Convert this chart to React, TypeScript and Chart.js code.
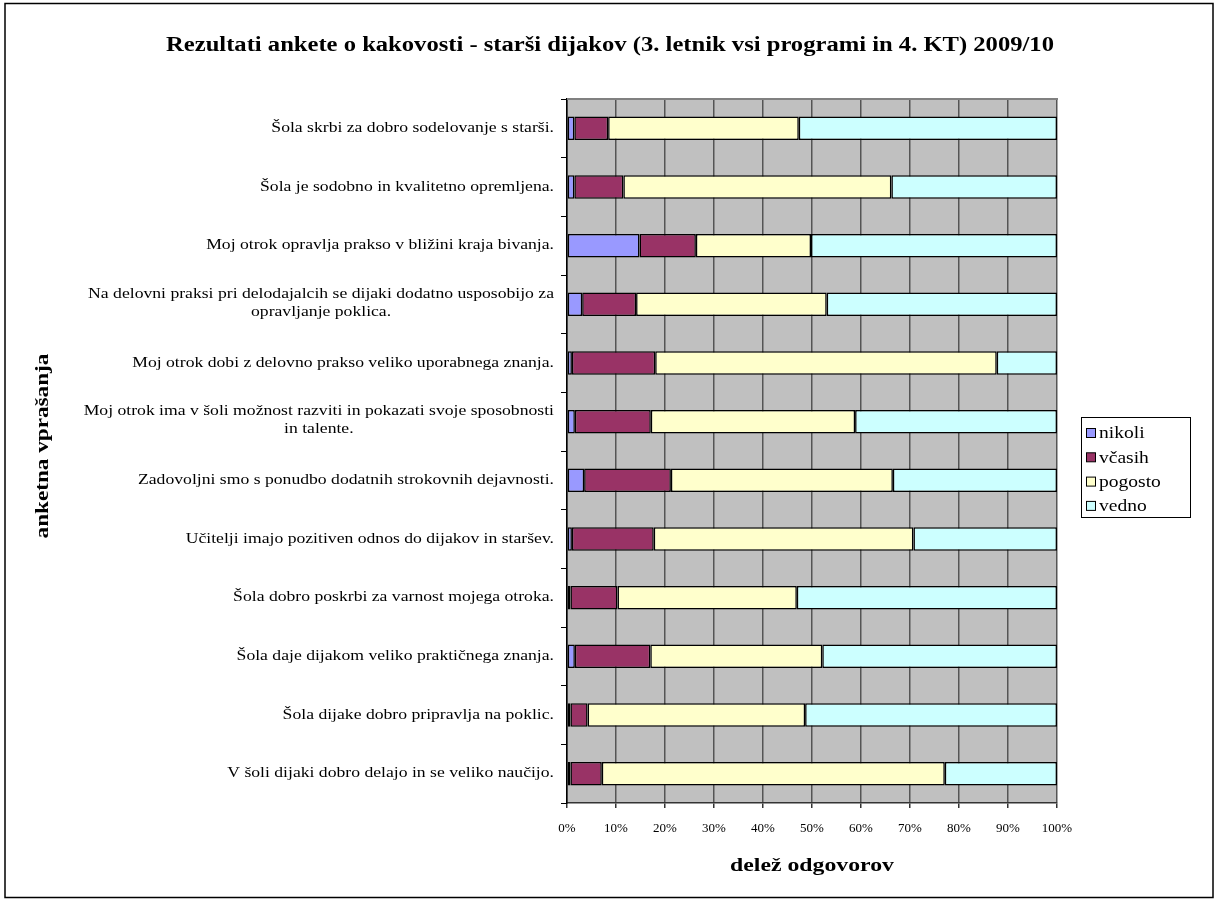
import React, { useEffect, useRef } from "react";
import { Chart, registerables } from "chart.js";

Chart.register(...registerables);

const TITLE = "Rezultati ankete o kakovosti - starši dijakov (3. letnik vsi programi in 4. KT) 2009/10";
const X_TITLE = "delež odgovorov";
const Y_TITLE = "anketna vprašanja";

const categories: string[][] = [
  ["Šola skrbi za dobro sodelovanje s starši."],
  ["Šola je sodobno in kvalitetno opremljena."],
  ["Moj otrok opravlja prakso v bližini kraja bivanja."],
  ["Na delovni praksi pri delodajalcih se dijaki dodatno usposobijo za", "opravljanje poklica."],
  ["Moj otrok dobi z delovno prakso veliko uporabnega znanja."],
  ["Moj otrok ima v šoli možnost razviti in pokazati svoje sposobnosti", "in talente."],
  ["Zadovoljni smo s ponudbo dodatnih strokovnih dejavnosti."],
  ["Učitelji imajo pozitiven odnos do dijakov in staršev."],
  ["Šola dobro poskrbi za varnost mojega otroka."],
  ["Šola daje dijakom veliko praktičnega znanja."],
  ["Šola dijake dobro pripravlja na poklic."],
  ["V šoli dijaki dobro delajo in se veliko naučijo."],
];

const seriesNames = ["nikoli", "včasih", "pogosto", "vedno"];
const seriesColors = ["#9999FF", "#993366", "#FFFFCC", "#CCFFFF"];

const nikoli = [1.5, 1.5, 14.8, 3.1, 1.0, 1.6, 3.5, 1.0, 0.7, 1.6, 0.7, 0.7];
const vcasih = [6.9, 10.0, 11.5, 11.0, 17.0, 15.5, 17.7, 16.7, 9.6, 15.4, 3.5, 6.4];
const pogosto = [38.9, 54.7, 23.5, 38.9, 69.7, 41.7, 45.3, 53.0, 36.6, 35.1, 44.4, 70.0];
const vedno = [52.7, 33.8, 50.2, 47.0, 12.3, 41.2, 33.5, 29.3, 53.1, 47.9, 51.4, 22.9];

const xTicks = [0, 10, 20, 30, 40, 50, 60, 70, 80, 90, 100];

const SERIF = "'Liberation Serif', 'Times New Roman', serif";

function stretchedText(ctx: CanvasRenderingContext2D, text: string, x: number, y: number, sx: number, align: CanvasTextAlign, rot = 0) {
  ctx.save();
  ctx.translate(x, y);
  if (rot) ctx.rotate(rot);
  ctx.scale(sx, 1);
  ctx.textAlign = align;
  ctx.fillText(text, 0, 0);
  ctx.restore();
}

export default function App() {
  const ref = useRef<HTMLCanvasElement | null>(null);

  useEffect(() => {
    if (!ref.current) return;
    const values = [nikoli, vcasih, pogosto, vedno];

    const framePlugin = {
      id: "frame",
      beforeDraw(chart: any) {
        const { ctx, chartArea: a } = chart;
        ctx.save();
        ctx.fillStyle = "#ffffff";
        ctx.fillRect(0, 0, chart.width, chart.height);
        ctx.fillStyle = "#C0C0C0";
        ctx.fillRect(a.left, a.top, a.right - a.left, a.bottom - a.top);
        ctx.restore();
      },
      beforeDatasetsDraw(chart: any) {
        const { ctx, chartArea: a } = chart;
        ctx.save();
        ctx.strokeStyle = "#808080";
        ctx.lineWidth = 2;
        ctx.beginPath();
        ctx.moveTo(a.left, a.top);
        ctx.lineTo(a.right + 1, a.top);
        ctx.stroke();
        ctx.restore();
      },
      afterDraw(chart: any) {
        const { ctx, chartArea: a } = chart;
        ctx.save();
        // outer border
        ctx.strokeStyle = "#000000";
        ctx.lineWidth = 1.5;
        ctx.strokeRect(5, 3.5, 1208, 894);

        ctx.fillStyle = "#000000";
        ctx.textBaseline = "middle";

        // title
        ctx.font = `bold 20px ${SERIF}`;
        stretchedText(ctx, TITLE, 610, 46, 1.23, "center");

        // axis titles
        ctx.font = `bold 19px ${SERIF}`;
        stretchedText(ctx, X_TITLE, (a.left + a.right) / 2, 866, 1.25, "center");
        stretchedText(ctx, Y_TITLE, 43, 446, 1.22, "center", -Math.PI / 2);

        // category labels
        const yScale = chart.scales.y;
        ctx.font = `14px ${SERIF}`;
        const sx = 1.26;
        const rightEdge = 554;
        const lh = 18;
        categories.forEach((lines, i) => {
          const cy = yScale.getPixelForValue(i);
          const maxW = Math.max(...lines.map((l) => ctx.measureText(l).width)) * sx;
          const cx = rightEdge - maxW / 2;
          const startY = cy - ((lines.length - 1) * lh) / 2 + (lines.length > 1 ? -1 : 0);
          lines.forEach((l, k) => {
            stretchedText(ctx, l, cx, startY + k * lh, sx, "center");
          });
        });

        // legend
        const lx = 1081, ly = 417, lw = 109, lhgt = 100;
        ctx.strokeStyle = "#000000";
        ctx.lineWidth = 1;
        ctx.strokeRect(lx + 0.5, ly + 0.5, lw, lhgt);
        ctx.font = `16px ${SERIF}`;
        chart.data.datasets.forEach((ds: any, i: number) => {
          const y = ly + 16 + i * 24.3;
          ctx.fillStyle = ds.backgroundColor;
          ctx.fillRect(lx + 5, y - 4.5, 9, 9);
          ctx.strokeStyle = "#000000";
          ctx.strokeRect(lx + 5.5, y - 4.5, 9, 9);
          ctx.fillStyle = "#000000";
          stretchedText(ctx, ds.label, lx + 18, y + 1, 1.22, "left");
        });
        ctx.restore();
      },
    };

    const chart = new Chart(ref.current, {
      type: "bar",
      data: {
        labels: categories.map((c) => c.join(" ")),
        datasets: seriesNames.map((name, i) => ({
          label: name,
          data: values[i],
          backgroundColor: seriesColors[i],
          borderColor: "#000000",
          borderWidth: 1.5,
          borderSkipped: false,
          barPercentage: 0.4,
          categoryPercentage: 1,
        })),
      },
      options: {
        indexAxis: "y",
        animation: false,
        responsive: true,
        maintainAspectRatio: false,
        layout: { padding: { left: 0, right: 158, top: 99, bottom: 0 } },
        plugins: {
          legend: { display: false },
          tooltip: { enabled: false },
          title: { display: false },
        },
        scales: {
          x: {
            type: "linear",
            stacked: true,
            min: 0,
            max: 100,
            afterFit: (s: any) => {
              s.height = 96;
            },
            afterBuildTicks: (s: any) => {
              s.ticks = xTicks.map((v) => ({ value: v }));
            },
            ticks: {
              color: "#000000",
              font: { family: SERIF, size: 13 },
              padding: 13,
              callback: (v: any) => `${v}%`,
            },
            grid: {
              color: "#555555",
              lineWidth: 1.5,
              drawTicks: true,
              tickLength: 5,
              tickColor: "#333333",
            },
            border: { display: true, color: "#333333", width: 1.5 },
          },
          y: {
            type: "category",
            stacked: true,
            offset: true,
            afterFit: (s: any) => {
              s.width = 567;
            },
            ticks: { display: false },
            grid: {
              offset: true,
              drawOnChartArea: false,
              drawTicks: true,
              tickLength: 6,
              tickColor: "#000000",
            },
            border: { display: true, color: "#000000", width: 1.5 },
          },
        },
      },
      plugins: [framePlugin],
    } as any);

    return () => chart.destroy();
  }, []);

  return (
    <div style={{ position: "absolute", left: 0, top: 0, width: 1215, height: 899 }}>
      <canvas ref={ref} />
    </div>
  );
}
